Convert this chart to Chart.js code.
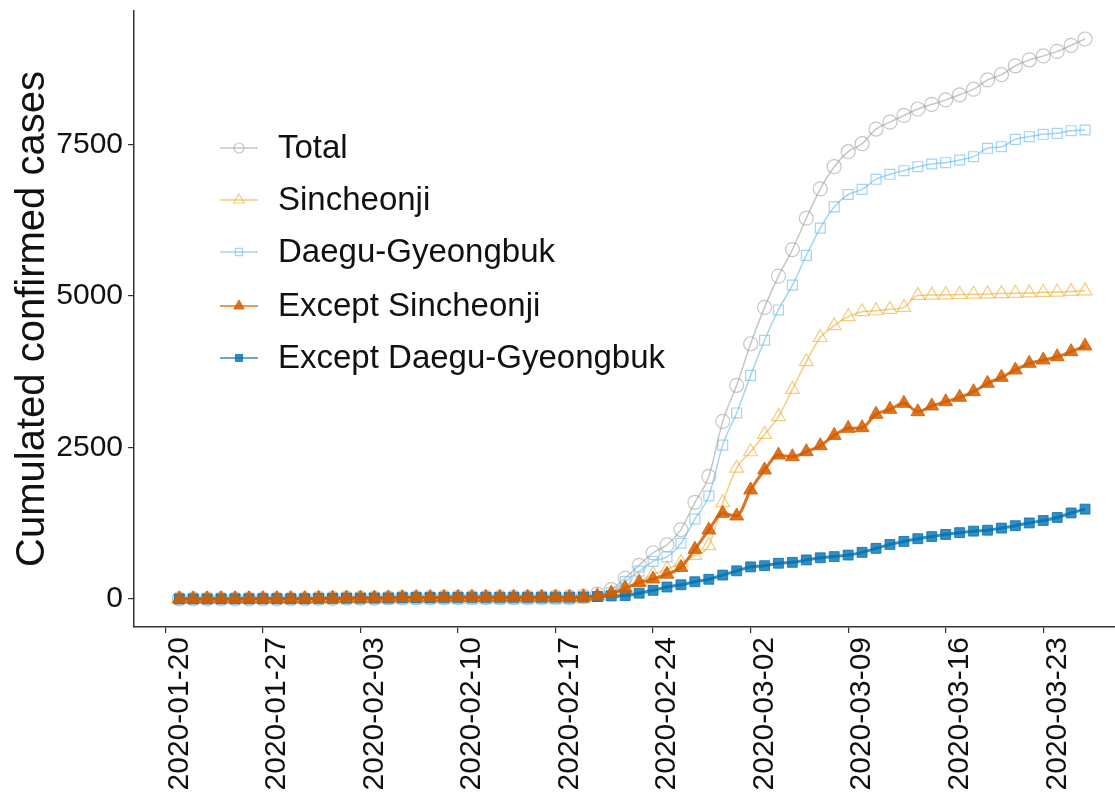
<!DOCTYPE html>
<html>
<head>
<meta charset="utf-8">
<script src="https://cdn.jsdelivr.net/npm/chart.js@4/dist/chart.umd.min.js"></script>
<style>
  body { margin: 0; background: #fff; }
  #wrap { width: 1115px; height: 801px; position: relative; }
</style>
</head>
<body>
<div id="wrap"><canvas id="casesChart"></canvas></div>
<script>
// Dates of the observations (one per day)
const dates = [
  '2020-01-21','2020-01-22','2020-01-23','2020-01-24','2020-01-25','2020-01-26','2020-01-27','2020-01-28','2020-01-29','2020-01-30','2020-01-31',
  '2020-02-01','2020-02-02','2020-02-03','2020-02-04','2020-02-05','2020-02-06','2020-02-07','2020-02-08','2020-02-09','2020-02-10',
  '2020-02-11','2020-02-12','2020-02-13','2020-02-14','2020-02-15','2020-02-16','2020-02-17','2020-02-18','2020-02-19','2020-02-20',
  '2020-02-21','2020-02-22','2020-02-23','2020-02-24','2020-02-25','2020-02-26','2020-02-27','2020-02-28','2020-02-29',
  '2020-03-01','2020-03-02','2020-03-03','2020-03-04','2020-03-05','2020-03-06','2020-03-07','2020-03-08','2020-03-09','2020-03-10',
  '2020-03-11','2020-03-12','2020-03-13','2020-03-14','2020-03-15','2020-03-16','2020-03-17','2020-03-18','2020-03-19','2020-03-20',
  '2020-03-21','2020-03-22','2020-03-23','2020-03-24','2020-03-25','2020-03-26'
];

const total = [
  1,1,1,2,2,3,4,4,4,4,11,
  12,15,15,16,18,23,24,24,27,27,
  28,28,28,28,28,29,30,31,46,82,
  156,346,556,763,893,1146,1595,2022,2931,
  3526,4212,4812,5328,5766,6284,6767,7134,7382,7513,
  7755,7869,7979,8086,8162,8236,8320,8413,8565,8652,
  8799,8897,8961,9037,9137,9241
];

const sincheonji = [
  0,0,0,0,0,0,0,0,0,0,0,
  0,0,0,0,0,0,0,0,0,0,
  0,0,0,0,0,0,0,1,12,35,
  90,190,290,410,490,600,720,880,1590,
  2160,2430,2715,3009,3460,3916,4315,4510,4660,4741,
  4757,4780,4813,5010,5015,5020,5025,5030,5035,5040,
  5045,5050,5060,5065,5075,5085
];

const daeguGyeongbuk = [
  0,0,0,0,0,0,0,0,0,0,0,
  0,0,0,0,0,0,0,0,0,0,
  0,0,0,0,0,0,0,1,12,42,
  106,290,460,620,695,920,1320,1700,2540,
  3070,3690,4270,4770,5180,5670,6120,6470,6675,6760,
  6926,7008,7068,7134,7178,7200,7244,7299,7437,7464,
  7585,7629,7668,7684,7728,7739
];

const exceptSincheonji = [
  1,1,1,2,2,3,4,4,4,4,11,
  12,15,15,16,18,23,24,24,27,27,
  28,28,28,28,28,29,30,30,34,50,
  95,176,270,330,410,520,820,1139,1414,
  1370,1799,2129,2376,2348,2431,2530,2700,2816,2827,
  3048,3130,3229,3091,3185,3256,3328,3421,3559,3658,
  3779,3889,3944,3998,4081,4175
];

const exceptDaeguGyeongbuk = [
  1,1,1,2,2,3,4,4,4,4,11,
  12,15,15,16,18,23,24,24,27,27,
  28,28,28,28,28,29,30,30,34,40,
  50,56,96,143,198,235,285,325,395,
  465,530,550,590,605,645,680,700,725,770,
  836,900,950,995,1030,1065,1095,1120,1135,1170,
  1210,1255,1295,1345,1420,1483
];

const tickDates = ['2020-01-20','2020-01-27','2020-02-03','2020-02-10','2020-02-17','2020-02-24','2020-03-02','2020-03-09','2020-03-16','2020-03-23'];
const yTicks = [0, 2500, 5000, 7500];

// days since 2020-01-20, used as the x position
const DAY = 86400000;
const origin = Date.UTC(2020, 0, 20);
function dayOf(s) {
  const p = s.split('-');
  return (Date.UTC(+p[0], +p[1] - 1, +p[2]) - origin) / DAY;
}
function labelOf(day) {
  return new Date(origin + day * DAY).toISOString().slice(0, 10);
}
function toPoints(values) {
  return values.map((v, i) => ({ x: dayOf(dates[i]), y: v }));
}

const FONT = "'Liberation Sans', Arial, sans-serif";

const series = [
  { label: 'Total', data: total, color: 'rgba(160,160,160,0.6)', fill: 'rgba(0,0,0,0)', style: 'circle', r: 7, lw: 1.5, pw: 1.2, order: 5 },
  { label: 'Sincheonji', data: sincheonji, color: 'rgba(236,170,40,0.6)', fill: 'rgba(0,0,0,0)', style: 'triangle', r: 8, lw: 1.5, pw: 1.2, order: 4 },
  { label: 'Daegu-Gyeongbuk', data: daeguGyeongbuk, color: 'rgba(100,185,235,0.6)', fill: 'rgba(0,0,0,0)', style: 'rect', r: 7, lw: 1.5, pw: 1.2, order: 3 },
  { label: 'Except Sincheonji', data: exceptSincheonji, color: 'rgba(213,94,0,0.85)', fill: 'rgba(213,94,0,0.85)', style: 'triangle', r: 8, lw: 3, pw: 1, order: 1 },
  { label: 'Except Daegu-Gyeongbuk', data: exceptDaeguGyeongbuk, color: 'rgba(0,114,178,0.8)', fill: 'rgba(0,114,178,0.8)', style: 'rect', r: 7, lw: 3, pw: 1, order: 2 }
];

// legend drawn inside the plot area, like the original
const insideLegend = {
  id: 'insideLegend',
  afterDraw(chart) {
    const ctx = chart.ctx;
    const rows = [148, 200, 252, 306, 358];
    ctx.save();
    series.forEach((s, i) => {
      const y = rows[i];
      ctx.strokeStyle = s.color;
      ctx.lineWidth = 1.5;
      ctx.beginPath();
      ctx.moveTo(220, y);
      ctx.lineTo(258, y);
      ctx.stroke();
      ctx.fillStyle = s.fill;
      ctx.strokeStyle = s.color;
      ctx.lineWidth = s.pw;
      Chart.helpers.drawPoint(ctx, { pointStyle: s.style, radius: s.r - 2, rotation: 0, borderWidth: s.pw }, 239, y);
      ctx.fillStyle = '#111';
      ctx.font = '33px ' + FONT;
      ctx.textBaseline = 'middle';
      ctx.fillText(s.label, 278, y + 1);
    });
    ctx.restore();
  }
};

new Chart(document.getElementById('casesChart'), {
  type: 'line',
  data: {
    datasets: series.map(s => ({
      label: s.label,
      data: toPoints(s.data),
      borderColor: s.color,
      borderWidth: s.lw,
      pointStyle: s.style,
      pointRadius: s.r,
      pointBorderWidth: s.pw,
      pointBorderColor: s.color,
      pointBackgroundColor: s.fill,
      cubicInterpolationMode: 'monotone',
      fill: false,
      order: s.order
    }))
  },
  options: {
    responsive: true,
    maintainAspectRatio: false,
    animation: false,
    layout: { autoPadding: false, padding: { top: 11, right: 0, bottom: 0, left: 0 } },
    plugins: {
      legend: { display: false },
      tooltip: { enabled: false }
    },
    scales: {
      x: {
        type: 'linear',
        min: -2.25,
        max: 68.15,
        afterBuildTicks: axis => { axis.ticks = tickDates.map(d => ({ value: dayOf(d) })); },
        afterFit: axis => {
          axis.height = 174;
          axis.paddingLeft = 0;
          axis.paddingRight = 0;
        },
        grid: { display: true, drawOnChartArea: false, drawTicks: true, tickLength: 6, color: '#333', lineWidth: 1.2 },
        border: { display: true, color: '#333', width: 1.5 },
        ticks: {
          callback: v => labelOf(v),
          minRotation: 90,
          maxRotation: 90,
          autoSkip: false,
          labelOffset: 14,
          padding: 4,
          color: '#111',
          font: { family: FONT, size: 30 }
        }
      },
      y: {
        min: -462,
        max: 9703,
        afterBuildTicks: axis => { axis.ticks = yTicks.map(v => ({ value: v })); },
        afterFit: axis => {
          axis.width = 134;
          axis.paddingTop = 0;
          axis.paddingBottom = 0;
        },
        grid: { display: true, drawOnChartArea: false, drawTicks: true, tickLength: 6, color: '#333', lineWidth: 1.2 },
        border: { display: true, color: '#333', width: 1.5 },
        ticks: {
          callback: v => String(v),
          padding: 5,
          color: '#111',
          font: { family: FONT, size: 30 }
        },
        title: {
          display: true,
          text: 'Cumulated confirmed cases',
          color: '#111',
          padding: { top: 9, bottom: 0 },
          font: { family: FONT, size: 40 }
        }
      }
    }
  },
  plugins: [insideLegend]
});
</script>
</body>
</html>
